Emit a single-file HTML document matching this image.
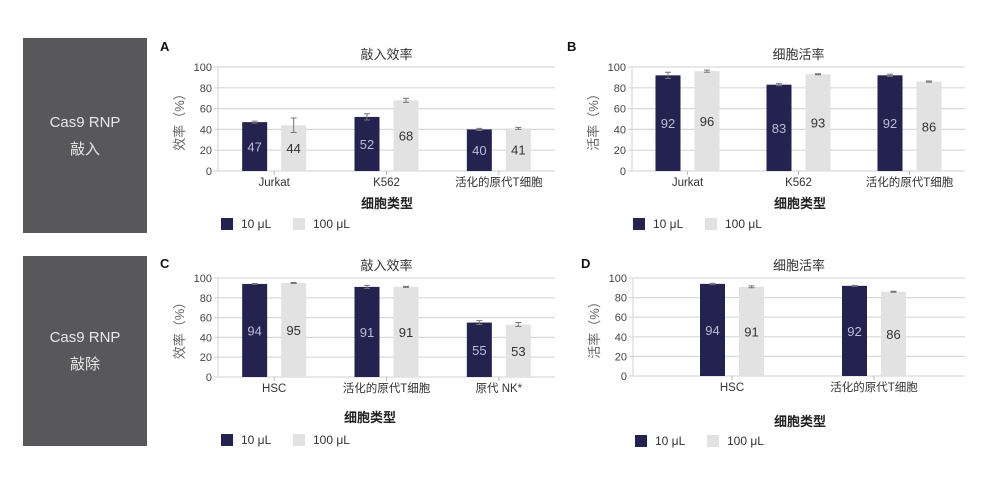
<!DOCTYPE html>
<html><head><meta charset="utf-8"><style>
body{margin:0;background:#fff;width:997px;height:491px;overflow:hidden;font-family:"Liberation Sans","Noto Sans CJK SC",sans-serif}
.box{position:absolute;left:23px;width:124px;background:#58585a;color:#e8e8e8;font-size:15px;text-align:center;display:flex;flex-direction:column;justify-content:center;line-height:27px}
</style></head><body>
<div class="box" style="top:38px;height:195px">Cas9 RNP<br>敲入</div>
<div class="box" style="top:256px;height:190px">Cas9 RNP<br>敲除</div>
<svg id="s" width="997" height="491" style="position:absolute;left:0;top:0"></svg>
<script>
const catsA=["Jurkat","K562","活化的原代T细胞"];
const a10=[47,52,40], a100=[44,68,41], aErr10=[1,3,1], aErr100=[7,2,1];
const catsB=["Jurkat","K562","活化的原代T细胞"];
const b10=[92,83,92], b100=[96,93,86], bErr10=[3,1,1], bErr100=[1,0.5,0.5];
const catsC=["HSC","活化的原代T细胞","原代 NK*"];
const c10=[94,91,55], c100=[95,91,53], cErr10=[0.5,1.5,2], cErr100=[0.5,0.5,2];
const catsD=["HSC","活化的原代T细胞"];
const d10=[94,92], d100=[91,86], dErr10=[0.5,0.5], dErr100=[1,0.5];
const ticks=[0,20,40,60,80,100];
const NS="http://www.w3.org/2000/svg";
const svg=document.getElementById('s');
function el(t,a,txt){const e=document.createElementNS(NS,t);for(const k in a)e.setAttribute(k,a[k]);if(txt!==undefined)e.textContent=txt;svg.appendChild(e);return e;}
function chart(o){
 const y=v=>o.y0-(o.y0-o.y100)*v/100;
 el('text',{x:o.lx,y:o.ly,'font-size':13,'font-weight':'bold',fill:'#111'},o.letter);
 const t=el('text',{x:(o.x0+o.x1)/2,y:o.y100-8,'font-size':13,fill:'#333','text-anchor':'middle'},o.title);
 
 ticks.forEach(v=>{
  const g=el('line',{x1:o.x0-4,x2:o.x1,y1:y(v),y2:y(v),stroke:'#d9d9d9','stroke-width':1.2});
  
  const tl=el('text',{x:o.x0-6,y:y(v)+4,'font-size':11,fill:'#444','text-anchor':'end'},v);
  
 });
 el('line',{x1:o.x0,x2:o.x0,y1:o.y100,y2:o.y0,stroke:'#d9d9d9','stroke-width':1.2});
 const yt=el('text',{transform:`translate(${o.x0-34},${(o.y0+o.y100)/2}) rotate(-90)`,'font-size':13,fill:'#666','text-anchor':'middle'},o.ylab);
 
 const n=o.cats.length, bw=(o.bx1-o.bx0)/n;
 o.cats.forEach((c,i)=>{
  const cx=o.bx0+bw*(i+0.5);
  const tk=el('line',{x1:cx,x2:cx,y1:o.y0,y2:o.y0+4,stroke:'#bbb'});
  const xl=el('text',{x:cx,y:o.y0+15,'font-size':11.5,fill:'#333','text-anchor':'middle'},c);
  
  [[o.v10,o.e10,'#24224f','#bcbdd6',cx-32],[o.v100,o.e100,'#e2e2e3','#333',cx+7]].forEach(([vals,errs,col,tc,x])=>{
   const v=vals[i];
   const r=el('rect',{x:x,y:y(v),width:25,height:y(0)-y(v),fill:col});
   
   const e=errs[i], ex=x+12.5;
   el('path',{d:`M${ex-3},${y(v+e)}H${ex+3}M${ex},${y(v+e)}V${y(v-e)}M${ex-3},${y(v-e)}H${ex+3}`,stroke:'#777',fill:'none','stroke-width':1});
   const vl=el('text',{x:ex,y:y(v/2)+5,'font-size':13,fill:tc,'text-anchor':'middle'},v);
   
  });
 });
 const xt=el('text',{x:o.xtx,y:o.xty,'font-size':13,'font-weight':'bold',fill:'#222','text-anchor':'middle'},'细胞类型');
 
 const l1=el('rect',{x:o.legx,y:o.legy-6,width:12,height:12,fill:'#24224f'});
 
 el('text',{x:o.legx+20,y:o.legy+4,'font-size':12,fill:'#333'},'10 μL');
 const l2=el('rect',{x:o.legx+72,y:o.legy-6,width:12,height:12,fill:'#e2e2e3'});
 
 el('text',{x:o.legx+92,y:o.legy+4,'font-size':12,fill:'#333'},'100 μL');
}
chart({letter:'A',lx:160,ly:51,title:'敲入效率',ylab:'效率（%）',cats:catsA,v10:a10,v100:a100,e10:aErr10,e100:aErr100,x0:218,x1:555,bx0:218,bx1:555,y0:171,y100:67,xtx:387,xty:208,legx:221,legy:224});
chart({letter:'B',lx:567,ly:51,title:'细胞活率',ylab:'活率（%）',cats:catsB,v10:b10,v100:b100,e10:bErr10,e100:bErr100,x0:632,x1:965,bx0:632,bx1:965,y0:171,y100:67,xtx:800,xty:208,legx:633,legy:224});
chart({letter:'C',lx:160,ly:268,title:'敲入效率',ylab:'效率（%）',cats:catsC,v10:c10,v100:c100,e10:cErr10,e100:cErr100,x0:218,x1:555,bx0:218,bx1:555,y0:377,y100:278,xtx:370,xty:422,legx:221,legy:440});
chart({letter:'D',lx:581,ly:268,title:'细胞活率',ylab:'活率（%）',cats:catsD,v10:d10,v100:d100,e10:dErr10,e100:dErr100,x0:633,x1:965,bx0:661,bx1:945,y0:376,y100:278,xtx:800,xty:426,legx:635,legy:441});
</script>
</body></html>
